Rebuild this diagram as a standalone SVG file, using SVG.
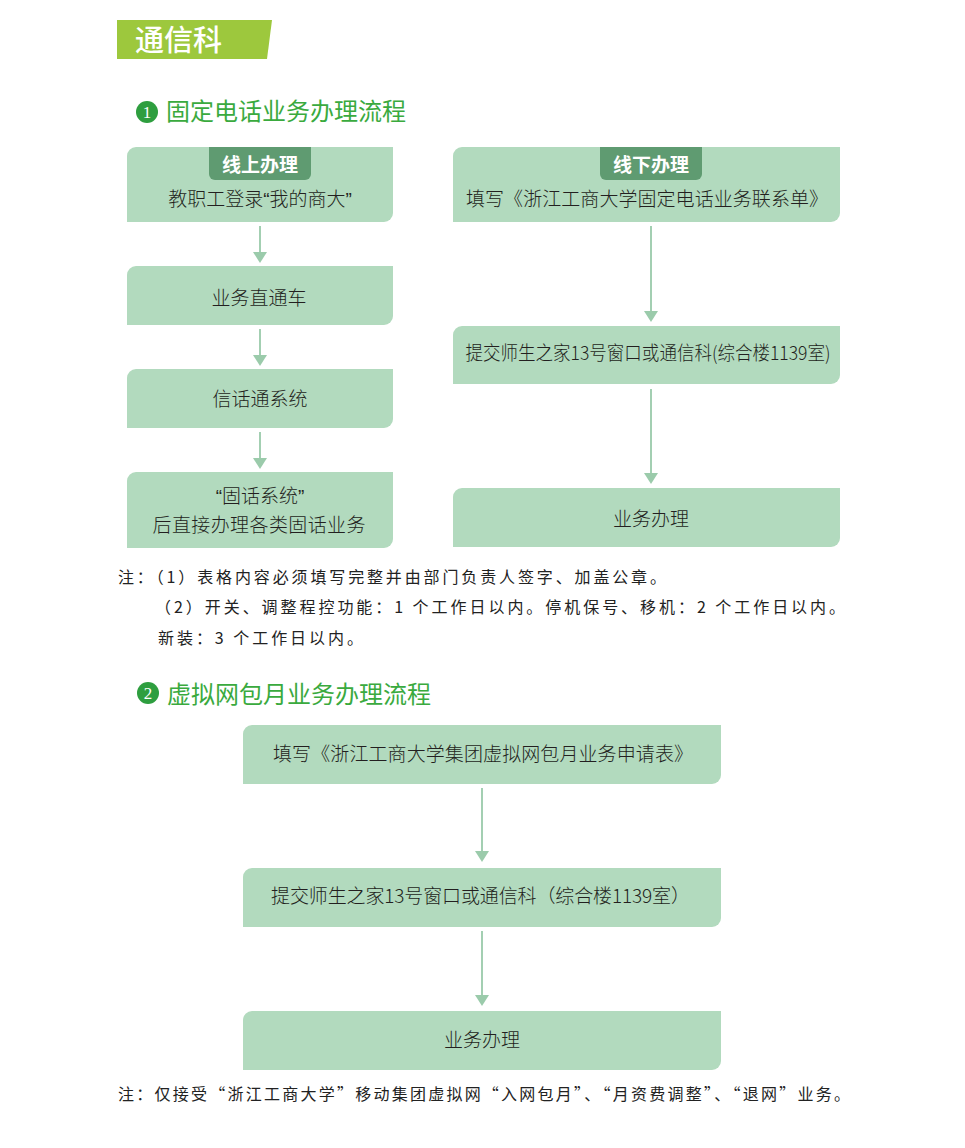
<svg xmlns="http://www.w3.org/2000/svg" width="965" height="1148" viewBox="0 0 965 1148">
  <style>
    .box { fill: #b2dabe; }
    .tab { fill: #5f9b71; }
    .bt { font-family: "Noto Sans CJK SC", sans-serif; font-size: 19px; font-weight: 300; fill: #231f20; text-anchor: middle; }
    .q { font-family: "Liberation Sans", sans-serif; }
    .tt { font-family: "Noto Sans CJK SC", sans-serif; font-size: 19px; font-weight: 700; fill: #ffffff; text-anchor: middle; }
    .hd { font-family: "Noto Sans CJK SC", sans-serif; font-size: 24px; fill: #3aaa3e; }
    .num { font-family: "Liberation Serif", serif; font-size: 17px; fill: #ffffff; text-anchor: middle; }
    .note { font-family: "Noto Sans CJK SC", sans-serif; font-size: 16px; font-weight: 400; fill: #222222; }
    .conn { stroke: #a3cfb2; stroke-width: 2; fill: none; marker-end: url(#arr); }
  </style>
  <defs>
    <marker id="arr" viewBox="0 0 11 14" refX="8" refY="7" markerWidth="11" markerHeight="14" orient="auto" markerUnits="userSpaceOnUse">
      <path d="M0,0 L11,7 L0,14 Z" fill="#9bcbab"/>
    </marker>
  </defs>
  <rect width="965" height="1148" fill="#ffffff"/>

  <g id="title">
    <polygon points="117,20 272,20 267,59 117,59" fill="#9dc83d"/>
    <text x="135" y="51" font-family="Noto Sans CJK SC, sans-serif" font-size="29" font-weight="500" fill="#ffffff">通信科</text>
  </g>

  <g id="heading1">
    <circle cx="147" cy="112" r="11" fill="#2e9e3f"/>
    <text class="num" x="147" y="118">1</text>
    <text class="hd" x="166" y="120">固定电话业务办理流程</text>
  </g>

  <g id="connectors">
    <line class="conn" x1="260" y1="226" x2="260" y2="260"/>
    <line class="conn" x1="260" y1="329" x2="260" y2="363"/>
    <line class="conn" x1="260" y1="432" x2="260" y2="466"/>
    <line class="conn" x1="651" y1="226" x2="651" y2="319"/>
    <line class="conn" x1="651" y1="389" x2="651" y2="481"/>
    <line class="conn" x1="482" y1="788" x2="482" y2="859"/>
    <line class="conn" x1="482" y1="931" x2="482" y2="1003"/>
  </g>

  <g id="node-online">
    <path class="box" d="M136,147 H393 V213 A9,9 0 0 1 384,222 H127 V156 A9,9 0 0 1 136,147 Z"/>
    <path class="tab" d="M209,147 H311 V174 A6,6 0 0 1 305,180 H215 A6,6 0 0 1 209,174 Z"/>
    <text class="tt" x="260" y="172">线上办理</text>
    <text class="bt" x="260" y="206">教职工登录<tspan class="q">“</tspan>我的商大<tspan class="q">”</tspan></text>
  </g>
  <g id="node-direct">
    <path class="box" d="M136,266 H393 V316 A9,9 0 0 1 384,325 H127 V275 A9,9 0 0 1 136,266 Z"/>
    <text class="bt" x="259" y="305">业务直通车</text>
  </g>
  <g id="node-xinhua">
    <path class="box" d="M136,369 H393 V419 A9,9 0 0 1 384,428 H127 V378 A9,9 0 0 1 136,369 Z"/>
    <text class="bt" x="260" y="406">信话通系统</text>
  </g>
  <g id="node-guhua">
    <path class="box" d="M136,472 H393 V539 A9,9 0 0 1 384,548 H127 V481 A9,9 0 0 1 136,472 Z"/>
    <text class="bt" x="260" y="503"><tspan class="q">“</tspan>固话系统<tspan class="q">”</tspan></text>
    <text class="bt" x="259" y="532" textLength="213" lengthAdjust="spacing">后直接办理各类固话业务</text>
  </g>

  <g id="node-offline">
    <path class="box" d="M462,147 H840 V213 A9,9 0 0 1 831,222 H453 V156 A9,9 0 0 1 462,147 Z"/>
    <path class="tab" d="M600,147 H702 V174 A6,6 0 0 1 696,180 H606 A6,6 0 0 1 600,174 Z"/>
    <text class="tt" x="651" y="172">线下办理</text>
    <text class="bt" x="647" y="206" textLength="362" lengthAdjust="spacing">填写《浙江工商大学固定电话业务联系单》</text>
  </g>
  <g id="node-submit1">
    <path class="box" d="M462,326 H840 V375 A9,9 0 0 1 831,384 H453 V335 A9,9 0 0 1 462,326 Z"/>
    <text class="bt" x="648" y="360" textLength="365" lengthAdjust="spacingAndGlyphs">提交师生之家13号窗口或通信科(综合楼1139室)</text>
  </g>
  <g id="node-handle1">
    <path class="box" d="M462,488 H840 V538 A9,9 0 0 1 831,547 H453 V497 A9,9 0 0 1 462,488 Z"/>
    <text class="bt" x="651" y="526">业务办理</text>
  </g>

  <g id="notes1">
    <text class="note" x="118" y="583" textLength="548" lengthAdjust="spacing">注：（1）表格内容必须填写完整并由部门负责人签字、加盖公章。</text>
    <text class="note" x="155" y="613" textLength="690" lengthAdjust="spacing">（2）开关、调整程控功能：1 个工作日以内。停机保号、移机：2 个工作日以内。</text>
    <text class="note" x="158" y="644" textLength="205" lengthAdjust="spacing">新装：3 个工作日以内。</text>
  </g>

  <g id="heading2">
    <circle cx="148" cy="693" r="11" fill="#2e9e3f"/>
    <text class="num" x="148" y="699">2</text>
    <text class="hd" x="167" y="703">虚拟网包月业务办理流程</text>
  </g>

  <g id="node-form2">
    <path class="box" d="M252,725 H721 V775 A9,9 0 0 1 712,784 H243 V734 A9,9 0 0 1 252,725 Z"/>
    <text class="bt" x="483" y="761" textLength="420" lengthAdjust="spacing">填写《浙江工商大学集团虚拟网包月业务申请表》</text>
  </g>
  <g id="node-submit2">
    <path class="box" d="M252,868 H721 V918 A9,9 0 0 1 712,927 H243 V877 A9,9 0 0 1 252,868 Z"/>
    <text class="bt" x="271" y="903" style="text-anchor:start" textLength="419" lengthAdjust="spacing">提交师生之家13号窗口或通信科（综合楼1139室）</text>
  </g>
  <g id="node-handle2">
    <path class="box" d="M252,1011 H721 V1061 A9,9 0 0 1 712,1070 H243 V1020 A9,9 0 0 1 252,1011 Z"/>
    <text class="bt" x="482" y="1047">业务办理</text>
  </g>

  <g id="notes2">
    <text class="note" x="118" y="1100" textLength="732" lengthAdjust="spacing">注：仅接受“浙江工商大学”移动集团虚拟网“入网包月”、“月资费调整”、“退网”业务。</text>
  </g>
</svg>
